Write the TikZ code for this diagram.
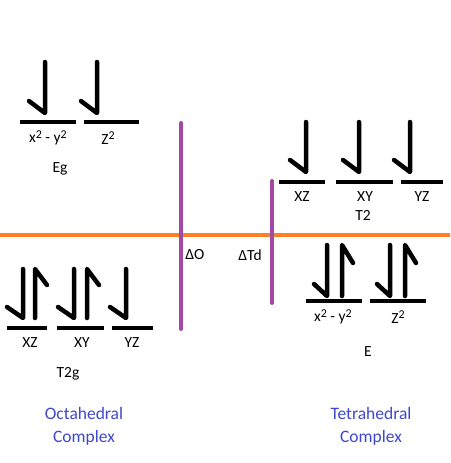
\documentclass[tikz,border=0pt]{standalone}
\usepackage{fontspec}
\setmainfont{Carlito}
\definecolor{splitorange}{RGB}{255,127,39}
\definecolor{splitpurple}{RGB}{163,73,164}
\definecolor{titleblue}{RGB}{63,72,204}
\newcommand{\sq}{\raisebox{.6ex}{\fontsize{12}{12}\selectfont 2}}
\begin{document}
\begin{tikzpicture}[x=1pt,y=-1pt,
    lvl/.style={line width=3.5pt},
    spin/.style={line width=4.5pt,line cap=round,line join=round},
    gap/.style={line width=4pt,color=splitpurple,line cap=round},
    orb/.style={font=\fontsize{15.5}{17}\selectfont,inner sep=0pt},
    cmplx/.style={font=\fontsize{17.5}{23}\selectfont,color=titleblue,align=center,inner sep=0pt}]
            \useasboundingbox (0,0) rectangle (450,463);
            \draw[line width=3.5pt,color=splitorange] (0,235)--(450,235);
            \draw[gap] (181,123)--(181,329);
            \draw[gap] (272,181)--(272,303);
            \node[orb] (dO) at (195,255) {ΔO};
            \node[orb] (dTd) at (250,255) {ΔTd};

            % octahedral, eg
            \draw[lvl] (20,122)--(76,122);
            \draw[lvl] (84,122)--(139,122);
            \foreach \x in {45,97}
                \draw[spin] (\x,62)--(\x,113)--(\x-16,101);
            \node[orb] (egA) at (48,138) {x\sq{} - y\sq};
            \node[orb] (egB) at (108,138) {Z\sq};
            \node[orb] (eg) at (60,169) {Eg};

            % octahedral, t2g
            \draw[lvl] (7,328)--(47,328);
            \draw[lvl] (57,328)--(104,328);
            \draw[lvl] (112,328)--(153,328);
            \foreach \x in {23,74,126}
                \draw[spin] (\x,269)--(\x,318)--(\x-16,307);
            \foreach \x in {35,87}
                \draw[spin] (\x,318)--(\x,269)--(\x+12,285);
            \node[orb] (tgA) at (30,343) {XZ};
            \node[orb] (tgB) at (82,343) {XY};
            \node[orb] (tgC) at (132,343) {YZ};
            \node[orb] (t2g) at (68,374) {T2g};

            % tetrahedral, t2
            \draw[lvl] (279,182)--(325,182);
            \draw[lvl] (336,182)--(393,182);
            \draw[lvl] (401,182)--(443,182);
            \foreach \x in {306,359,410}
                \draw[spin] (\x,122)--(\x,172)--(\x-16,160);
            \node[orb] (tA) at (302,197) {XZ};
            \node[orb] (tB) at (365,197) {XY};
            \node[orb] (tC) at (422,197) {YZ};
            \node[orb] (t2) at (363,215) {T2};

            % tetrahedral, e
            \draw[lvl] (306,301)--(362,301);
            \draw[lvl] (370,301)--(426,301);
            \foreach \x in {327,390}
                \draw[spin] (\x,245)--(\x,296)--(\x-13,284);
            \foreach \x in {342,405}
                \draw[spin] (\x,296)--(\x,245)--(\x+11,263);
            \node[orb] (eA) at (333,317) {x\sq{} - y\sq};
            \node[orb] (eB) at (398,317) {Z\sq};
            \node[orb] (e) at (368,352) {E};

            \node[cmplx] (oct) at (84,426) {Octahedral\\Complex};
            \node[cmplx] (tet) at (371,426) {Tetrahedral\\Complex};
        \end{tikzpicture}
\end{document}
